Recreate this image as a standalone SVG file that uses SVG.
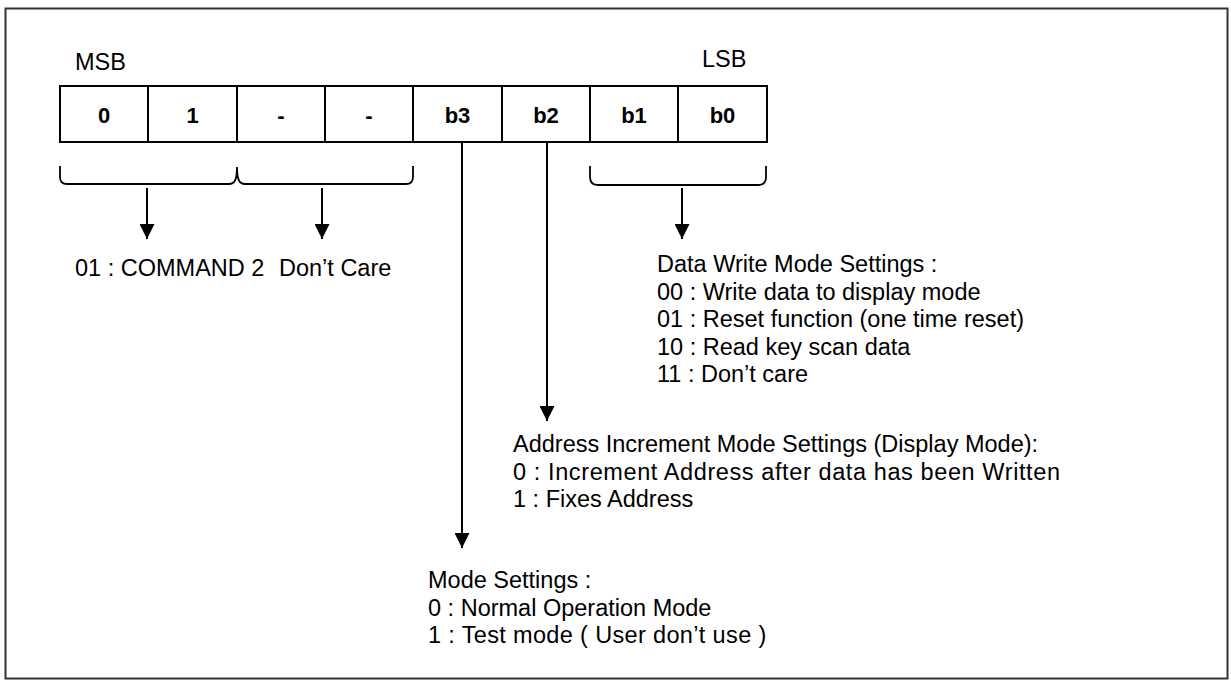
<svg xmlns="http://www.w3.org/2000/svg" width="1231" height="680" viewBox="0 0 1231 680">
<defs>
<style>
.t{font-family:"Liberation Sans",Arial,sans-serif;font-size:23.5px;fill:#000}
.b{font-family:"Liberation Sans",Arial,sans-serif;font-size:22px;font-weight:bold;fill:#000;text-anchor:middle}
.cell{fill:#fff;stroke:#000;stroke-width:2}
.br{fill:none;stroke:#000;stroke-width:1.8}
.ln{fill:none;stroke:#000;stroke-width:2}
</style>
<marker id="ah" viewBox="0 0 15 15" refX="15" refY="7.5" markerWidth="15" markerHeight="15" markerUnits="userSpaceOnUse" orient="auto">
<path d="M0,0 L15,7.5 L0,15 Z" fill="#000"/>
</marker>
</defs>
<rect x="0" y="0" width="1231" height="680" fill="#fff"/>
<rect x="5.5" y="8.5" width="1222" height="670" fill="none" stroke="#333" stroke-width="2"/>
<g id="msb"><text class="t" x="75" y="70">MSB</text></g>
<g id="lsb"><text class="t" x="702" y="67">LSB</text></g>
<g id="bits">
<rect class="cell" x="60" y="86" width="88" height="56"/>
<rect class="cell" x="148" y="86" width="89" height="56"/>
<rect class="cell" x="237" y="86" width="88" height="56"/>
<rect class="cell" x="325" y="86" width="88" height="56"/>
<rect class="cell" x="413" y="86" width="89" height="56"/>
<rect class="cell" x="502" y="86" width="88" height="56"/>
<rect class="cell" x="590" y="86" width="88" height="56"/>
<rect class="cell" x="678" y="86" width="89" height="56"/>
<text class="b" x="104" y="123">0</text>
<text class="b" x="192.5" y="123">1</text>
<text class="b" x="281" y="123">-</text>
<text class="b" x="369" y="123">-</text>
<text class="b" x="457.5" y="123">b3</text>
<text class="b" x="546" y="123">b2</text>
<text class="b" x="634" y="123">b1</text>
<text class="b" x="722.5" y="123">b0</text>
</g>
<g id="braces">
<path class="br" d="M60,166 L60,177 Q60,184 67,184 L229,184 C234,184 237,181 237,167 C237,181 240,184 245,184 L406,184 Q413,184 413,177 L413,166"/>
<path class="br" d="M590,166 L590,177 Q590,185 598,185 L758,185 Q766,185 766,177 L766,166"/>
</g>
<g id="connectors">
<line class="ln" x1="147" y1="188" x2="147" y2="239" marker-end="url(#ah)"/>
<line class="ln" x1="322" y1="188" x2="322" y2="239" marker-end="url(#ah)"/>
<line class="ln" x1="682" y1="188" x2="682" y2="239" marker-end="url(#ah)"/>
<line class="ln" x1="462" y1="142" x2="462" y2="548" marker-end="url(#ah)"/>
<line class="ln" x1="547" y1="142" x2="547" y2="421" marker-end="url(#ah)"/>
</g>
<g id="cmd"><text class="t" x="75" y="276">01 : COMMAND 2</text></g>
<g id="dontcare"><text class="t" x="279" y="276">Don’t Care</text></g>
<g id="datawrite">
<text class="t" x="657" y="272">Data Write Mode Settings :</text>
<text class="t" x="657" y="299.5">00 : Write data to display mode</text>
<text class="t" x="657" y="327">01 : Reset function (one time reset)</text>
<text class="t" x="657" y="354.5">10 : Read key scan data</text>
<text class="t" x="657" y="382">11 : Don’t care</text>
</g>
<g id="addrinc">
<text class="t" x="513" y="452">Address Increment Mode Settings (Display Mode):</text>
<text class="t" x="513" y="479.5" style="letter-spacing:0.6px">0 : Increment Address after data has been Written</text>
<text class="t" x="513" y="507">1 : Fixes Address</text>
</g>
<g id="mode">
<text class="t" x="428" y="588">Mode Settings :</text>
<text class="t" x="428" y="615.5">0 : Normal Operation Mode</text>
<text class="t" x="428" y="643" style="letter-spacing:0.35px">1 : Test mode ( User don’t use )</text>
</g>
</svg>
